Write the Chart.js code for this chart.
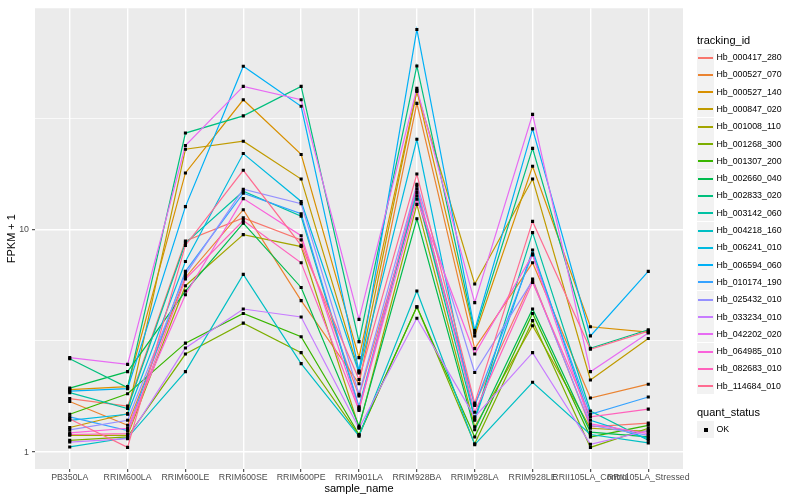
<!DOCTYPE html>
<html><head><meta charset="utf-8">
<script src="https://cdn.jsdelivr.net/npm/chart.js@4.4.0/dist/chart.umd.min.js"></script>
<style>
html,body{margin:0;padding:0;background:#fff;}
#wrap{position:relative;width:800px;height:500px;font-family:"Liberation Sans",Arial,sans-serif;}
canvas{position:absolute;left:0;top:0;}
.lg-title{position:absolute;left:697px;font-size:11px;color:#000;line-height:13px;white-space:nowrap;}
.lg-key{position:absolute;left:697px;width:17px;height:17px;background:#F2F2F2;}
.lg-line{position:absolute;left:1px;right:1px;top:8px;height:1.5px;}
.lg-pt{position:absolute;left:6.5px;top:6.5px;width:4px;height:4px;background:#000;}
.lg-txt{position:absolute;left:716.5px;font-size:8.8px;line-height:10px;color:#000;white-space:nowrap;}
</style></head><body>
<div id="wrap"><canvas id="c" width="800" height="500"></canvas><div id="legend"></div></div>
<script>
const categories = ['PB350LA','RRIM600LA','RRIM600LE','RRIM600SE','RRIM600PE','RRIM901LA','RRIM928BA','RRIM928LA','RRIM928LE','RRII105LA_Control','RRII105LA_Stressed'];
const trackingIds = ['Hb_000417_280','Hb_000527_070','Hb_000527_140','Hb_000847_020','Hb_001008_110','Hb_001268_300','Hb_001307_200','Hb_002660_040','Hb_002833_020','Hb_003142_060','Hb_004218_160','Hb_006241_010','Hb_006594_060','Hb_010174_190','Hb_025432_010','Hb_033234_010','Hb_042202_020','Hb_064985_010','Hb_082683_010','Hb_114684_010'];
const quantStatus = ['OK'];
const yTickLabels = [1, 10];

const v000417_280 = [1.74, 1.61, 8.9, 11.3, 9.0, 1.79, 14.2, 1.64, 6.0, 1.30, 1.35];
const v000527_070 = [1.69, 1.32, 6.1, 12.3, 4.8, 2.03, 37.0, 2.92, 7.1, 1.75, 2.02];
const v000527_140 = [1.91, 1.97, 18.0, 38.4, 21.8, 2.66, 42.3, 3.33, 19.3, 3.66, 3.46];
const v000847_020 = [1.29, 1.49, 23.0, 25.0, 16.9, 2.30, 41.8, 5.7, 16.9, 2.11, 3.24];
const v001008_110 = [1.19, 1.19, 5.6, 9.5, 8.4, 1.29, 13.0, 1.30, 3.7, 1.28, 1.24];
const v001268_300 = [1.13, 1.17, 2.76, 3.8, 2.8, 1.19, 4.5, 1.09, 3.9, 1.05, 1.28];
const v001307_200 = [1.48, 1.83, 3.09, 4.2, 3.3, 1.20, 4.5, 1.17, 4.2, 1.17, 1.32];
const v002660_040 = [1.94, 2.30, 5.3, 10.7, 5.5, 1.31, 11.2, 1.26, 4.4, 1.23, 1.17];
const v002833_020 = [2.63, 1.95, 27.2, 32.5, 44.1, 3.14, 54.5, 3.44, 23.2, 2.93, 3.55];
const v003142_060 = [1.85, 1.57, 8.7, 14.9, 11.5, 1.58, 14.7, 1.41, 9.7, 1.53, 1.13];
const v004218_160 = [1.055, 1.16, 2.3, 6.3, 2.5, 1.18, 5.3, 1.08, 2.06, 1.20, 1.10];
const v006241_010 = [1.39, 1.48, 7.2, 22.0, 13.4, 2.27, 25.5, 1.39, 8.1, 1.39, 1.15];
const v006594_060 = [1.88, 1.93, 12.7, 54.3, 35.9, 2.32, 79.5, 3.53, 28.4, 3.33, 6.5];
const v010174_190 = [1.44, 1.25, 6.5, 14.6, 11.8, 1.60, 15.2, 1.62, 7.8, 1.48, 1.77];
const v025432_010 = [1.26, 1.39, 6.3, 15.2, 13.1, 1.82, 16.0, 2.28, 5.9, 1.32, 1.19];
const v033234_010 = [1.11, 1.15, 2.94, 4.4, 4.05, 1.28, 4.0, 1.44, 2.8, 1.085, 1.25];
const v042202_020 = [2.66, 2.48, 23.9, 44.1, 38.4, 3.95, 43.2, 4.7, 33.0, 2.3, 3.43];
const v064985_010 = [1.22, 1.28, 5.1, 13.8, 9.4, 1.56, 13.7, 2.76, 7.7, 1.34, 1.21];
const v082683_010 = [1.20, 1.21, 6.0, 11.0, 7.1, 1.54, 15.7, 1.51, 5.8, 1.44, 1.56];
const v114684_010 = [1.41, 1.05, 8.5, 18.5, 8.5, 2.12, 17.8, 1.66, 10.9, 2.9, 3.5];

const seriesValues = [v000417_280, v000527_070, v000527_140, v000847_020, v001008_110, v001268_300, v001307_200, v002660_040, v002833_020, v003142_060, v004218_160, v006241_010, v006594_060, v010174_190, v025432_010, v033234_010, v042202_020, v064985_010, v082683_010, v114684_010];

const seriesColors = ['#F8766D','#EA8331','#D89000','#C09B00','#A3A500','#7CAE00','#39B600','#00BB4E','#00BF7D','#00C1A3','#00BFC4','#00BAE0','#00B0F6','#35A2FF','#9590FF','#C77CFF','#E76BF3','#FA62DB','#FF62BC','#FF6C91'];

const FONT = '"Liberation Sans", Arial, sans-serif';
Chart.defaults.font.family = FONT;

const datasets = [];
seriesValues.forEach((vals, i) => {
  datasets.push({
    label: trackingIds[i] + ' (' + quantStatus[0] + ')',
    data: vals.map((v, j) => ({x: j, y: v})),
    showLine: false,
    pointStyle: 'rect',
    pointRadius: 2.2,
    pointBackgroundColor: '#000000',
    pointBorderWidth: 0,
    order: 0
  });
});
seriesValues.forEach((vals, i) => {
  datasets.push({
    label: trackingIds[i],
    data: vals.map((v, j) => ({x: j, y: v})),
    borderColor: seriesColors[i],
    borderWidth: 1.2,
    pointRadius: 0,
    fill: false,
    tension: 0,
    order: 100 - i
  });
});

const panelBg = {
  id: 'panelBg',
  beforeDraw(chart) {
    const {ctx, chartArea: a} = chart;
    ctx.save();
    ctx.fillStyle = '#EBEBEB';
    ctx.fillRect(a.left, a.top, a.right - a.left, a.bottom - a.top);
    ctx.restore();
  }
};

const yMin = 0.8396, yMax = 99.0;
const yGrid = [];
yTickLabels.forEach(v => { yGrid.push(v); yGrid.push(v * Math.sqrt(10)); });

new Chart(document.getElementById('c'), {
  type: 'line',
  data: {datasets},
  plugins: [panelBg],
  options: {
    responsive: false,
    animation: false,
    layout: {padding: {top: 5, right: 117, bottom: 0, left: 0}},
    plugins: {legend: {display: false}, tooltip: {enabled: false}},
    scales: {
      x: {
        type: 'linear',
        min: -0.6,
        max: categories.length - 0.4,
        afterBuildTicks(s) { s.ticks = categories.map((c, i) => ({value: i})); },
        afterFit(s) { s.height = 31; },
        ticks: {
          callback: (v, idx) => categories[idx],
          autoSkip: false, maxRotation: 0, minRotation: 0,
          color: '#4D4D4D', font: {size: 8.8, family: FONT}, padding: 0
        },
        grid: {color: '#FFFFFF', lineWidth: 1.4, tickColor: '#333333', tickLength: 3, tickWidth: 1},
        border: {display: false},
        title: {display: true, text: 'sample_name', color: '#000000', font: {size: 11, family: FONT}, padding: {top: 0, bottom: 4.4}}
      },
      y: {
        type: 'logarithmic',
        min: yMin,
        max: yMax,
        afterBuildTicks(s) { s.ticks = yGrid.map(v => ({value: v})); },
        afterFit(s) { s.width = 35; },
        ticks: {
          callback: (v) => yTickLabels.includes(v) ? String(v) : '',
          autoSkip: false,
          color: '#4D4D4D', font: {size: 8.8, family: FONT}, padding: 3
        },
        grid: {
          color: '#FFFFFF',
          lineWidth: (c) => (c.tick && yTickLabels.includes(c.tick.value)) ? 1.4 : 0.7,
          tickColor: (c) => (c.tick && yTickLabels.includes(c.tick.value)) ? '#333333' : 'rgba(0,0,0,0)',
          tickLength: 3, tickWidth: 1
        },
        border: {display: false},
        title: {display: true, text: 'FPKM + 1', color: '#000000', font: {size: 11, family: FONT}, padding: {top: 5.4, bottom: 0}}
      }
    }
  }
});

// legend
const lg = document.getElementById('legend');
function add(html) { lg.insertAdjacentHTML('beforeend', html); }
add('<div class="lg-title" style="top:33.5px">tracking_id</div>');
trackingIds.forEach((id, i) => {
  const cy = 57 + i * 17.3;
  add('<div class="lg-key" style="top:' + Math.round(cy - 8.5) + 'px"><div class="lg-line" style="background:' + seriesColors[i] + '"></div></div>');
  add('<div class="lg-txt" style="top:' + (cy - 5) + 'px">' + id + '</div>');
});
add('<div class="lg-title" style="top:405.8px">quant_status</div>');
quantStatus.forEach((q, i) => {
  const cy = 429.3 + i * 17.3;
  add('<div class="lg-key" style="top:' + Math.round(cy - 8.5) + 'px"><div class="lg-pt"></div></div>');
  add('<div class="lg-txt" style="top:' + (cy - 5) + 'px">' + q + '</div>');
});
</script>
</body></html>
